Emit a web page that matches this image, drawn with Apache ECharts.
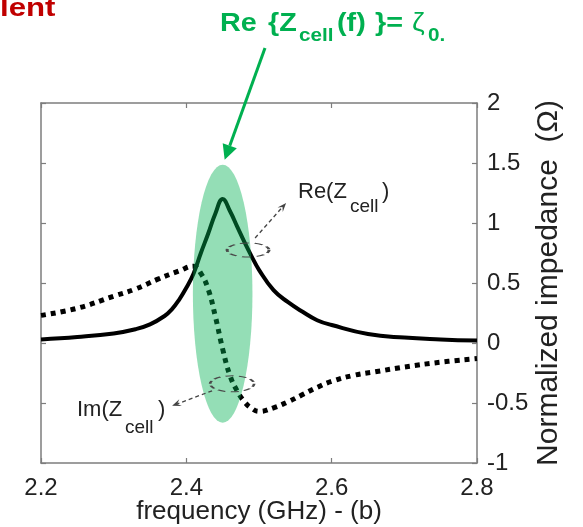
<!DOCTYPE html>
<html>
<head>
<meta charset="utf-8">
<script src="https://cdn.jsdelivr.net/npm/echarts@6/dist/echarts.min.js"></script>
<style>
  html, body { margin: 0; padding: 0; background: #fff; }
  #chart { width: 583px; height: 527px; }
</style>
</head>
<body>
<div id="chart"></div>
<script>
// Real part of the cell impedance (normalized) vs frequency in GHz
const reFreq   = [2.20, 2.25, 2.30, 2.33, 2.35, 2.37, 2.38, 2.39, 2.40, 2.41, 2.42, 2.43, 2.44, 2.45,
                  2.46, 2.47, 2.48, 2.49, 2.50, 2.52, 2.54, 2.56, 2.58, 2.60, 2.65, 2.70, 2.75, 2.80];
const reValues = [0.03, 0.05, 0.08, 0.115, 0.155, 0.225, 0.28, 0.36, 0.46, 0.58, 0.75, 0.91, 1.08, 1.20,
                  1.10, 0.97, 0.84, 0.72, 0.61, 0.44, 0.34, 0.26, 0.19, 0.15, 0.075, 0.045, 0.03, 0.02];

// Imaginary part of the cell impedance (normalized)
const imFreq   = [2.20, 2.25, 2.30, 2.33, 2.36, 2.39, 2.41, 2.42, 2.43, 2.44, 2.45, 2.46, 2.47,
                  2.48, 2.49, 2.50, 2.52, 2.54, 2.56, 2.58, 2.60, 2.63, 2.66, 2.70, 2.75, 2.80];
const imValues = [0.23, 0.29, 0.39, 0.45, 0.53, 0.60, 0.64, 0.58, 0.45, 0.22, -0.05, -0.27, -0.40,
                  -0.49, -0.545, -0.57, -0.54, -0.49, -0.43, -0.37, -0.32, -0.27, -0.24, -0.20, -0.16, -0.13];

// Resonance highlight: centre frequency, centre value, full width (GHz), full height
const resonanceZone = [[2.45, 0.41, 0.082, 2.15]];

// Axis scales
const xRange = { min: 2.2, max: 2.8, step: 0.2 };
const yRange = { min: -1, max: 2, step: 0.5 };

const FONT = '"Liberation Sans", Arial, Helvetica, sans-serif';
const AXIS_GRAY = '#7d7d7d';
const TEXT_DARK = '#222';
const GREEN = '#00b050';

const chart = echarts.init(document.getElementById('chart'), null, { renderer: 'canvas' });

const boxAxisLine = { show: true, onZero: false, lineStyle: { color: AXIS_GRAY, width: 1.5 } };
const boxTick = { show: true, inside: true, length: 5, lineStyle: { color: AXIS_GRAY, width: 1.2 } };

chart.setOption({
  animation: false,
  backgroundColor: '#fff',
  grid: { left: 41, right: 106, top: 103, bottom: 64, containLabel: false, outerBoundsMode: 'none' },
  xAxis: [
    {
      type: 'value', position: 'bottom',
      min: xRange.min, max: xRange.max, interval: xRange.step,
      axisLine: boxAxisLine, axisTick: boxTick, splitLine: { show: false },
      axisLabel: { color: TEXT_DARK, fontSize: 24, fontFamily: FONT, margin: 13,
                   formatter: v => v.toFixed(1) },
      name: 'frequency (GHz) - (b)', nameLocation: 'middle', nameGap: 36, nameMoveOverlap: false,
      nameTextStyle: { color: TEXT_DARK, fontSize: 26, fontFamily: FONT }
    },
    {
      type: 'value', position: 'top',
      min: xRange.min, max: xRange.max, interval: xRange.step,
      axisLine: boxAxisLine, axisTick: boxTick, splitLine: { show: false },
      axisLabel: { show: false }
    }
  ],
  yAxis: [
    {
      type: 'value', position: 'right',
      min: yRange.min, max: yRange.max, interval: yRange.step,
      axisLine: boxAxisLine, axisTick: boxTick, splitLine: { show: false },
      axisLabel: { color: TEXT_DARK, fontSize: 24, fontFamily: FONT, margin: 10,
                   formatter: v => String(v) },
      name: 'Normalized impedance  (\u03A9)', nameLocation: 'middle', nameGap: 57, nameRotate: 90,
      nameMoveOverlap: false,
      nameTextStyle: { color: TEXT_DARK, fontSize: 30, fontFamily: FONT }
    },
    {
      type: 'value', position: 'left',
      min: yRange.min, max: yRange.max, interval: yRange.step,
      axisLine: boxAxisLine, axisTick: boxTick, splitLine: { show: false },
      axisLabel: { show: false }
    }
  ],
  series: [
    {
      name: 'Re(Zcell)', type: 'line', xAxisIndex: 0, yAxisIndex: 0,
      data: reFreq.map((f, i) => [f, reValues[i]]),
      showSymbol: false, smooth: 0.45, z: 3,
      lineStyle: { color: '#000', width: 4 }
    },
    {
      name: 'Im(Zcell)', type: 'line', xAxisIndex: 0, yAxisIndex: 0,
      data: imFreq.map((f, i) => [f, imValues[i]]),
      showSymbol: false, smooth: 0.45, z: 3,
      lineStyle: { color: '#000', width: 5, type: [5, 5], cap: 'butt' }
    },
    {
      name: 'resonance', type: 'custom', xAxisIndex: 0, yAxisIndex: 0,
      data: resonanceZone, encode: { x: 0, y: 1 }, z: 10, silent: true, clip: false,
      renderItem: (params, api) => {
        const c = api.coord([api.value(0), api.value(1)]);
        const s = api.size([api.value(2), api.value(3)]);
        const rx = s[0] / 2, ry = s[1] / 2;
        return {
          type: 'circle', x: c[0], y: c[1], scaleX: rx / ry, scaleY: 1,
          shape: { cx: 0, cy: 0, r: ry },
          style: { fill: 'rgba(0,176,80,0.42)', stroke: null }
        };
      }
    }
  ]
});

// ---- annotations -------------------------------------------------------
const px = (f, v) => chart.convertToPixel({ xAxisIndex: 0, yAxisIndex: 0 }, [f, v]);

function label(x, baseline, text, size, color, bold, sx) {
  return {
    type: 'text', x: x, y: baseline - 0.30 * size, scaleX: sx || 1, silent: true, z: 100,
    style: { text: text, fill: color, align: 'left', verticalAlign: 'middle',
             font: (bold ? 'bold ' : '') + size + 'px ' + FONT }
  };
}

function arrow(x1, y1, x2, y2, color, width, headLen, headW, dashed) {
  const dx = x2 - x1, dy = y2 - y1, len = Math.hypot(dx, dy);
  const ux = dx / len, uy = dy / len, nx = -uy, ny = ux;
  const bx = x2 - ux * headLen, by = y2 - uy * headLen;
  const notchX = x2 - ux * headLen * (dashed ? 0.6 : 1), notchY = y2 - uy * headLen * (dashed ? 0.6 : 1);
  return [
    { type: 'line', silent: true, z: 100,
      shape: { x1: x1, y1: y1, x2: notchX, y2: notchY },
      style: { stroke: color, lineWidth: width, lineDash: dashed ? [4, 3] : null } },
    { type: 'polygon', silent: true, z: 100,
      shape: { points: [[x2, y2], [bx + nx * headW, by + ny * headW], [notchX, notchY], [bx - nx * headW, by - ny * headW]] },
      style: { fill: color } }
  ];
}

function dashedEllipse(cx, cy, rx, ry) {
  return {
    type: 'circle', x: cx, y: cy, scaleX: rx / ry, silent: true, z: 100,
    shape: { cx: 0, cy: 0, r: ry },
    style: { fill: null, stroke: '#4a4a4a', lineWidth: 1.0, lineDash: [3, 2] }
  };
}

const zoneTop = px(resonanceZone[0][0], resonanceZone[0][1] + resonanceZone[0][3] / 2);
const reMark = px(2.485, 0.775);
const imMark = px(2.463, -0.34);

const graphics = [];

// cropped heading fragment in the corner
graphics.push(label(0, 17, 'lent', 26, '#c00000', true, 1.2));

// headline formula
graphics.push(label(220, 32, 'Re', 25, GREEN, true, 1.15));
graphics.push(label(268, 32, '{Z', 25, GREEN, true, 1.15));
graphics.push(label(299, 41, 'cell', 18, GREEN, true, 1.15));
graphics.push(label(337, 32, '(f)', 25, GREEN, true, 1.15));
graphics.push(label(375, 32, '}=', 25, GREEN, true, 1.15));
graphics.push(label(412, 32, '\u03B6', 25, GREEN, false, 1.15));
graphics.push(label(428, 41, '0.', 18, GREEN, true, 1.15));
graphics.push(...arrow(265, 48, zoneTop[0] + 2, zoneTop[1] - 5, GREEN, 3, 15, 7.5, false));

// Re(Zcell) pointer
graphics.push(dashedEllipse(reMark[0], reMark[1], 21, 7));
graphics.push(...arrow(reMark[0] + 7, reMark[1] - 12, reMark[0] + 38, reMark[1] - 47, '#444', 1.3, 9, 3.5, true));
graphics.push(label(298, 199, 'Re(Z', 22, TEXT_DARK, false));
graphics.push(label(350, 212, 'cell', 19, TEXT_DARK, false));
graphics.push(label(382, 199, ')', 22, TEXT_DARK, false));

// Im(Zcell) pointer
graphics.push(dashedEllipse(imMark[0], imMark[1], 22, 8));
graphics.push(...arrow(imMark[0] - 20, imMark[1] + 7, imMark[0] - 60, imMark[1] + 22, '#444', 1.3, 9, 3.5, true));
graphics.push(label(77, 417, 'Im(Z', 22, TEXT_DARK, false));
graphics.push(label(125, 433, 'cell', 19, TEXT_DARK, false));
graphics.push(label(158, 417, ')', 22, TEXT_DARK, false));

chart.setOption({ graphic: graphics });
</script>
</body>
</html>
